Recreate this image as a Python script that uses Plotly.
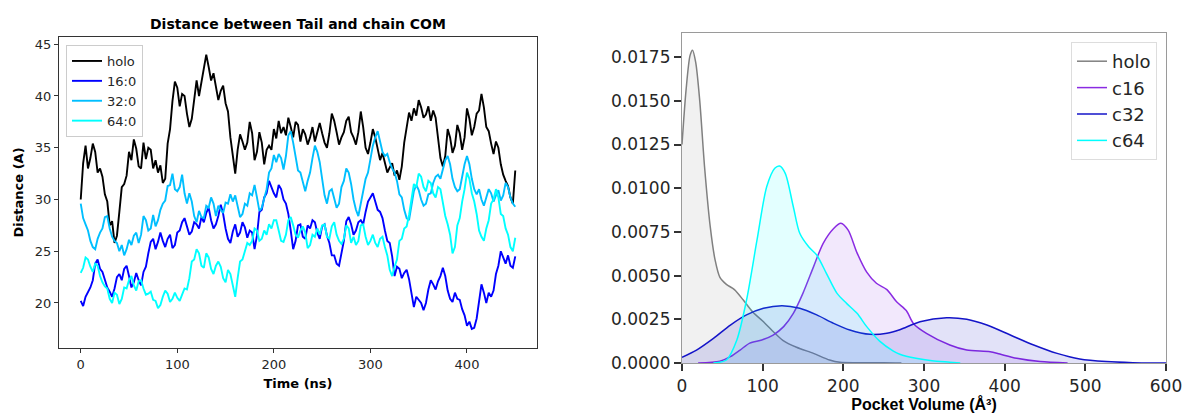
import plotly.graph_objects as go

# ---------------- Left panel data (time series) ----------------
# readings every 5 ns
time_ns = list(range(0, 455, 5))
# readings in between (2.5, 7.5, ... ns) capturing the visible jitter band
time_mid = [2.5 + 5 * i for i in range(90)]

holo = [30.0, 35.2, 34.0, 34.6, 33.0, 30.5, 27.5, 25.8, 28.8, 31.5,
        34.6, 35.8, 33.2, 35.5, 35.0, 33.0, 32.6, 31.6, 35.4, 39.5,
        40.8, 40.2, 38.3, 37.8, 41.5, 41.3, 44.0, 41.5, 40.8, 40.5,
        39.3, 36.0, 32.5, 36.3, 34.8, 37.5, 33.8, 36.5, 33.4, 35.2,
        36.8, 37.6, 37.0, 37.9, 36.0, 37.2, 36.8, 35.3, 37.0, 36.6,
        36.4, 35.0, 38.3, 36.5, 36.0, 37.6, 36.5, 35.3, 38.5, 35.0,
        35.5, 36.0, 33.8, 33.4, 33.1, 32.3, 31.9, 35.5, 38.4, 38.8,
        39.6, 37.9, 39.0, 38.6, 36.0, 33.2, 36.8, 34.5, 37.2, 34.8,
        38.8, 36.2, 38.3, 40.2, 37.0, 35.4, 35.6, 33.4, 31.8, 30.2,
        32.8]
holo_mid = [33.5, 33.0, 35.4, 32.6, 32.2, 29.8, 27.9, 26.5, 31.2, 32.3,
            33.8, 34.9, 33.0, 33.9, 34.8, 33.8, 33.3, 32.0, 36.8, 41.4,
            39.0, 40.0, 37.0, 39.5, 40.0, 42.5, 42.8, 42.2, 39.6, 41.0,
            38.5, 34.0, 34.8, 35.6, 35.5, 36.4, 34.6, 35.5, 34.8, 34.8,
            35.9, 36.4, 36.2, 37.0, 37.5, 35.6, 36.3, 36.0, 35.6, 37.4,
            35.5, 36.4, 37.6, 35.3, 36.5, 38.0, 36.0, 36.5, 37.0, 34.4,
            36.8, 35.0, 34.5, 32.6, 33.5, 32.8, 33.2, 37.2, 37.6, 38.1,
            38.9, 38.2, 37.6, 37.9, 34.0, 34.2, 36.0, 35.2, 36.4, 36.0,
            37.8, 37.0, 38.6, 38.9, 36.6, 34.4, 35.0, 32.4, 31.3, 29.6]

c16_0 = [20.2, 20.6, 21.5, 23.8, 23.3, 22.3, 21.1, 21.4, 22.8, 23.3,
         22.6, 22.0, 22.2, 23.0, 24.8, 26.2, 25.9, 26.0, 26.2, 25.3,
         26.8, 27.8, 27.4, 26.9, 27.6, 28.3, 28.7, 28.0, 27.6, 29.5,
         27.2, 25.8, 27.6, 26.8, 27.3, 27.0, 25.2, 28.8, 30.2, 31.8,
         30.6, 31.4, 30.0, 28.6, 25.2, 27.5, 26.4, 27.5, 28.0, 26.8,
         27.4, 26.5, 24.6, 23.8, 24.9, 27.9, 27.6, 27.0, 28.0, 28.8,
         30.2, 29.8, 28.8, 27.0, 25.8, 22.6, 23.3, 22.9, 22.3, 19.6,
         20.3, 19.3, 21.3, 21.8, 22.1, 23.4, 21.2, 20.1, 20.4, 19.4,
         17.8, 17.5, 18.5, 21.8, 20.0, 20.6, 22.8, 25.0, 23.8, 23.6,
         24.5]
c16_0_mid = [19.7, 21.0, 22.2, 24.2, 23.0, 21.5, 20.6, 22.5, 22.2, 23.6,
             21.5, 22.9, 21.7, 23.5, 25.9, 25.2, 26.8, 25.4, 26.6, 25.6,
             27.0, 28.2, 26.6, 27.8, 27.2, 27.8, 29.2, 27.2, 28.4, 28.6,
             26.2, 26.9, 26.4, 27.8, 26.3, 26.8, 26.5, 29.0, 30.6, 31.2,
             30.2, 31.0, 29.6, 27.0, 26.0, 27.6, 26.2, 27.2, 27.8, 26.2,
             27.6, 25.8, 24.6, 23.6, 26.0, 28.3, 26.6, 27.8, 27.6, 29.8,
             30.6, 29.0, 28.2, 26.0, 24.5, 23.5, 22.4, 23.2, 21.0, 20.6,
             20.0, 20.0, 22.2, 21.3, 22.6, 22.6, 20.4, 21.0, 20.3, 18.8,
             18.2, 17.6, 20.4, 21.0, 21.0, 21.2, 23.6, 24.4, 24.6, 23.4]

c32_0 = [29.6, 27.6, 26.0, 25.2, 26.8, 28.3, 27.2, 26.0, 25.0, 24.6,
         26.1, 26.5, 25.8, 28.4, 27.0, 28.5, 28.0, 29.6, 31.3, 32.5,
         30.8, 32.4, 29.6, 29.8, 27.8, 28.3, 29.4, 30.2, 28.4, 29.0,
         29.7, 30.5, 30.4, 28.3, 29.6, 30.6, 31.4, 28.9, 30.0, 32.6,
         34.3, 34.4, 32.9, 36.2, 35.5, 32.8, 31.6, 31.8, 34.0, 34.6,
         32.0, 29.6, 31.0, 29.2, 31.2, 33.0, 31.5, 29.0, 29.5, 32.0,
         34.0, 36.0, 35.6, 34.2, 33.6, 32.6, 30.5, 29.0, 28.0, 30.8,
         30.9, 29.4, 30.5, 31.6, 32.4, 32.9, 34.2, 32.0, 30.8, 32.2,
         34.2, 32.0, 30.5, 30.0, 30.2, 30.6, 30.4, 29.9, 31.6, 30.2,
         29.3]
c32_0_mid = [28.2, 27.0, 25.4, 26.2, 27.2, 28.4, 26.4, 25.8, 25.6, 25.2,
             25.6, 26.8, 26.6, 28.0, 27.2, 27.4, 29.0, 29.9, 31.4, 31.0,
             31.2, 30.6, 30.6, 28.4, 28.9, 28.2, 29.2, 29.6, 29.4, 28.7,
             29.6, 29.8, 29.4, 28.6, 29.4, 30.4, 30.2, 29.2, 31.0, 33.0,
             33.6, 34.0, 34.2, 36.6, 34.0, 32.6, 30.8, 32.6, 35.2, 33.6,
             30.4, 30.8, 30.2, 29.6, 31.8, 32.6, 30.0, 28.4, 30.6, 32.6,
             35.2, 36.6, 34.6, 34.4, 33.0, 31.8, 30.2, 28.2, 29.6, 31.4,
             30.0, 29.6, 30.6, 32.2, 32.0, 33.8, 33.4, 31.2, 31.0, 33.4,
             33.4, 31.0, 31.0, 29.4, 31.0, 29.8, 30.9, 30.4, 31.2, 29.6]

c64_0 = [22.9, 24.4, 23.5, 23.8, 22.6, 21.6, 20.4, 21.0, 19.9, 21.5,
         22.2, 21.7, 22.1, 21.4, 20.9, 20.3, 19.5, 20.6, 20.9, 20.4,
         20.5, 20.8, 21.3, 24.0, 25.2, 23.6, 24.8, 23.3, 23.6, 23.5,
         22.0, 22.8, 20.6, 24.0, 25.1, 25.6, 27.2, 26.0, 27.0, 27.6,
         28.0, 27.0, 25.9, 28.0, 27.5, 26.3, 27.4, 25.3, 26.6, 27.2,
         27.5, 26.4, 27.4, 26.6, 25.7, 27.5, 25.8, 25.6, 27.5, 26.4,
         26.0, 25.8, 26.2, 25.4, 23.2, 23.5, 26.0, 27.2, 28.5, 31.5,
         32.5, 31.2, 31.8, 30.6, 31.2, 29.8, 27.6, 24.8, 27.5, 29.8,
         32.6, 30.6, 28.6, 26.4, 27.2, 29.6, 31.0, 28.6, 27.2, 25.4,
         26.3]
c64_0_mid = [23.4, 24.2, 23.0, 23.6, 22.0, 21.4, 20.0, 20.8, 20.4, 21.4,
             22.6, 21.2, 22.2, 20.8, 21.1, 20.2, 19.8, 21.2, 20.1, 21.0,
             20.2, 21.4, 22.4, 24.2, 24.8, 23.4, 24.4, 22.8, 24.0, 22.4,
             23.2, 21.8, 22.4, 24.2, 25.8, 26.0, 27.0, 26.2, 26.6, 27.2,
             28.0, 26.0, 26.6, 28.3, 26.6, 27.0, 26.8, 25.6, 26.4, 26.6,
             27.6, 26.2, 27.8, 26.0, 26.2, 27.2, 26.4, 26.0, 27.6, 25.6,
             26.6, 25.4, 26.4, 24.6, 22.6, 24.2, 26.2, 27.4, 30.0, 31.2,
             32.2, 30.8, 31.6, 30.2, 31.0, 28.4, 26.6, 25.4, 28.2, 31.0,
             32.0, 29.8, 27.0, 26.0, 28.0, 30.0, 30.2, 28.4, 26.6, 25.0]

left_names = ["holo", "16:0", "32:0", "64:0"]
left_colors = ["#000000", "#0000ff", "#00bfff", "#00ffff"]
left_ticks_x = [0, 100, 200, 300, 400]
left_ticks_y = [20, 25, 30, 35, 40, 45]

# ---------------- Right panel data (pocket volume densities) ----------------
holo_v = [0, 5, 10, 13, 17, 22, 28, 35, 41, 47, 55, 65, 76, 88, 100, 113, 125,
          142, 163, 183, 196, 220, 250, 272]
holo_d = [0.0125, 0.0156, 0.0176, 0.0179, 0.0172, 0.0150, 0.0112, 0.0078,
          0.0059, 0.0049, 0.0045, 0.0042, 0.0036, 0.0029, 0.0024, 0.0018,
          0.0013, 0.0009, 0.00055, 0.00017, 0.00004, 0.00002, 0.00002, 0.0]

c16_v = [20, 47, 60, 72, 84, 99, 113, 126, 138, 150, 163, 175, 188, 197, 206,
         217, 229, 241, 254, 266, 278, 287, 303, 332, 353, 382, 394, 415, 444, 478]
c16_d = [0.0, 0.0001, 0.00036, 0.00074, 0.00114, 0.00132, 0.0016, 0.00208,
         0.00284, 0.0040, 0.0055, 0.00685, 0.0077, 0.0080, 0.0076, 0.0063,
         0.0052, 0.00456, 0.0042, 0.0035, 0.0030, 0.00225, 0.0017, 0.00103,
         0.00074, 0.00065, 0.00051, 0.00027, 0.00008, 0.0]

c32_v = [0, 18, 39, 60, 80, 101, 124, 146, 167, 188, 208, 233, 254, 270, 295,
         328, 353, 378, 407, 436, 465, 493, 526, 559, 600]
c32_d = [0.00033, 0.00074, 0.00141, 0.00217, 0.00275, 0.00313, 0.00328,
         0.00313, 0.00275, 0.00227, 0.00189, 0.00164, 0.0017, 0.0019, 0.00236,
         0.00259, 0.0025, 0.00217, 0.0016, 0.00103, 0.00055, 0.00023, 0.00008,
         0.00002, 0.0]

c64_v = [39, 55, 68, 80, 93, 105, 115, 121, 128, 138, 146, 157, 167, 179, 192,
         204, 217, 229, 245, 262, 270, 290, 310, 332, 345]
c64_d = [0.0, 0.00017, 0.00132, 0.0036, 0.00704, 0.01008, 0.01114, 0.01127,
         0.01085, 0.00894, 0.00742, 0.00665, 0.00618, 0.00513, 0.004, 0.00341,
         0.00284, 0.00208, 0.00125, 0.00068, 0.0005, 0.00027, 0.00013, 0.00005, 0.0]

right_names = ["holo", "c16", "c32", "c64"]
right_colors = ["#808080", "#8a2be2", "#1414c8", "#00ffff"]
right_fills = ["rgba(128,128,128,0.11)", "rgba(138,43,226,0.11)",
               "rgba(20,20,200,0.12)", "rgba(0,255,255,0.11)"]
right_ticks_x = [0, 100, 200, 300, 400, 500, 600]
right_ticks_y = [0.0, 0.0025, 0.005, 0.0075, 0.01, 0.0125, 0.015, 0.0175]


def merge(main_vals, mid_vals):
    assert len(main_vals) == len(time_ns) and len(mid_vals) == len(time_mid)
    pts = sorted(list(zip(time_ns, main_vals)) + list(zip(time_mid, mid_vals)))
    return [p[0] for p in pts], [p[1] for p in pts]


W, H = 1183, 413
fig = go.Figure()

for name, col, main_vals, mid_vals in zip(
        left_names, left_colors,
        [holo, c16_0, c32_0, c64_0],
        [holo_mid, c16_0_mid, c32_0_mid, c64_0_mid]):
    xs, ys = merge(main_vals, mid_vals)
    fig.add_trace(go.Scatter(x=xs, y=ys, mode="lines", name=name,
                             line=dict(color=col, width=1.9),
                             xaxis="x", yaxis="y", legend="legend"))

for name, col, fc, xs, ys in zip(right_names, right_colors, right_fills,
                                 [holo_v, c16_v, c32_v, c64_v],
                                 [holo_d, c16_d, c32_d, c64_d]):
    fig.add_trace(go.Scatter(x=xs, y=ys, mode="lines", name=name,
                             line=dict(color=col, width=1.5, shape="spline", smoothing=0.8),
                             fill="tozeroy", fillcolor=fc, showlegend=False,
                             xaxis="x2", yaxis="y2"))

# legend entries (line only, like the reference legend)
for name, col in zip(right_names, right_colors):
    fig.add_trace(go.Scatter(x=[None], y=[None], mode="lines", name=name,
                             line=dict(color=col, width=1.5),
                             xaxis="x2", yaxis="y2", legend="legend2"))

font_dv = "DejaVu Sans"
fig.update_layout(
    width=W, height=H,
    margin=dict(l=0, r=0, t=0, b=0, autoexpand=False),
    paper_bgcolor="white", plot_bgcolor="white",
    font=dict(family=font_dv, color="#262626"),
    showlegend=True,
    xaxis=dict(domain=[59 / W, 537 / W], range=[-22.5, 472.5], automargin=False,
               tickvals=left_ticks_x, ticks="outside", ticklen=4, tickcolor="#333",
               showline=True, linecolor="#333", linewidth=1, mirror=True,
               showgrid=False, zeroline=False, tickfont=dict(size=13),
               title=dict(text="<b>Time (ns)</b>", font=dict(size=13, color="#000"), standoff=8),
               anchor="y"),
    yaxis=dict(domain=[(H - 348) / H, (H - 37) / H], range=[15.65, 45.7], automargin=False,
               tickvals=left_ticks_y, ticks="outside", ticklen=4, tickcolor="#333",
               showline=True, linecolor="#333", linewidth=1, mirror=True,
               showgrid=False, zeroline=False, tickfont=dict(size=13),
               title=dict(text="<b>Distance (A)</b>", font=dict(size=13, color="#000"), standoff=8),
               anchor="x"),
    xaxis2=dict(domain=[682 / W, 1166 / W], range=[0, 600], automargin=False,
                tickvals=right_ticks_x, ticks="outside", ticklen=7, tickwidth=1.5, tickcolor="#333",
                showline=True, linecolor="#9a9a9a", linewidth=1.2, mirror=True,
                showgrid=False, zeroline=False, tickfont=dict(size=17),
                title=dict(text="<b>Pocket Volume (Å³)</b>",
                           font=dict(size=16, family="Liberation Sans", color="#000"), standoff=2),
                anchor="y2"),
    yaxis2=dict(domain=[(H - 363) / H, (H - 33) / H], range=[0, 0.01888], automargin=False,
                tickvals=right_ticks_y, tickformat=".4f", ticks="outside", ticklen=7,
                tickwidth=1.5, tickcolor="#333",
                showline=True, linecolor="#9a9a9a", linewidth=1.2, mirror=True,
                showgrid=False, zeroline=False, tickfont=dict(size=17),
                anchor="x2"),
    legend=dict(x=66 / W, y=(H - 45) / H, xanchor="left", yanchor="top",
                bgcolor="rgba(255,255,255,0.8)", bordercolor="#cccccc", borderwidth=1,
                font=dict(size=13, color="#262626"), tracegroupgap=0),
    legend2=dict(x=1157 / W, y=(H - 42) / H, xanchor="right", yanchor="top",
                 bgcolor="rgba(255,255,255,0.8)", bordercolor="#dddddd", borderwidth=1,
                 font=dict(size=18, color="#262626"), tracegroupgap=0),
    annotations=[dict(text="<b>Distance between Tail and chain COM</b>",
                      x=298 / W, y=(H - 24) / H, xref="paper", yref="paper",
                      xanchor="center", yanchor="middle", showarrow=False,
                      font=dict(size=14, color="#000", family=font_dv))],
)

fig.write_html("out.html", config={"displayModeBar": False},
               post_script="document.body.style.margin='0px';document.body.style.padding='0px';")
